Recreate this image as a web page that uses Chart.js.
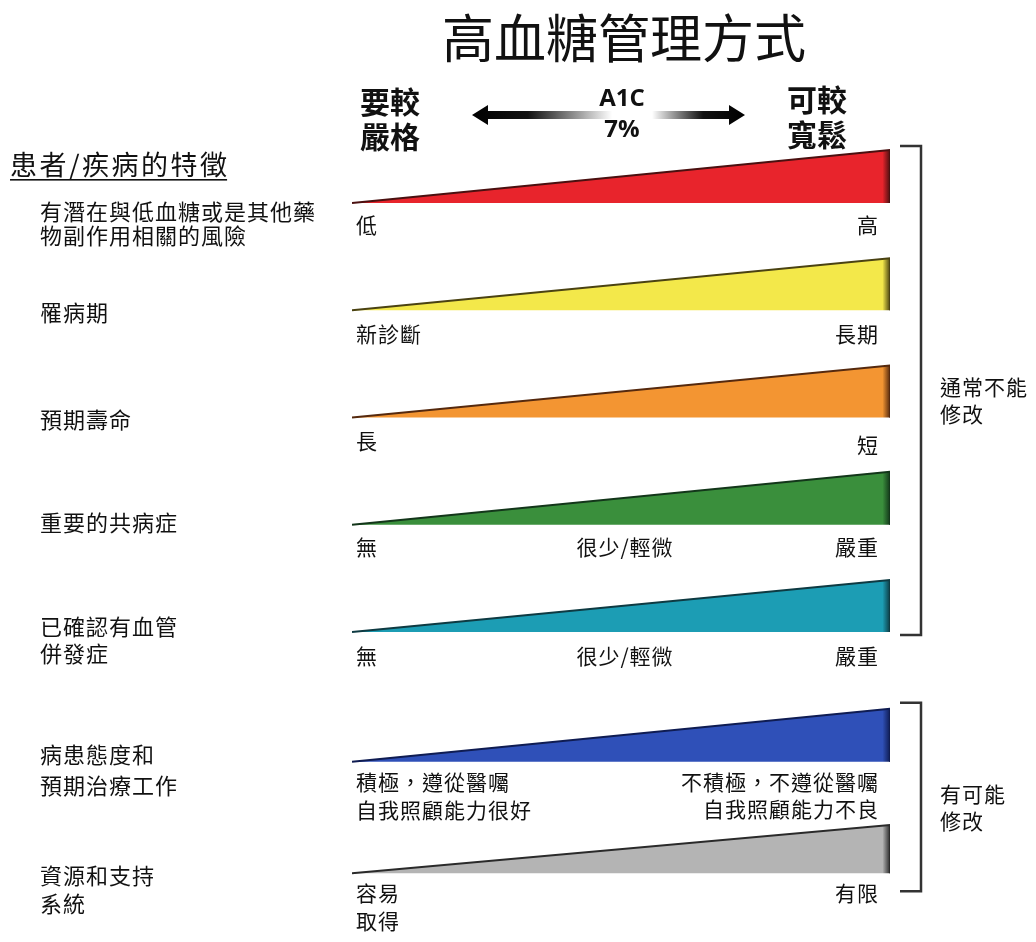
<!DOCTYPE html>
<html><head><meta charset="utf-8">
<script src="https://cdn.jsdelivr.net/npm/chart.js@4/dist/chart.umd.min.js"></script>
<style>html,body{margin:0;padding:0;background:#fff;}#wrap{width:1036px;height:942px;position:relative}</style>
</head><body><div id="wrap"><canvas id="c" width="1036" height="942"></canvas></div>
<script>
// ---------- data ----------
const title = '高血糖管理方式';
const sectionHeader = '患者/疾病的特徵';
const categories = [
  ['有潛在與低血糖或是其他藥', '物副作用相關的風險'],
  ['罹病期'],
  ['預期壽命'],
  ['重要的共病症'],
  ['已確認有血管', '併發症'],
  ['病患態度和', '預期治療工作'],
  ['資源和支持', '系統']
];
const lowLabels = [['低'], ['新診斷'], ['長'], ['無'], ['無'], ['積極，遵從醫囑', '自我照顧能力很好'], ['容易', '取得']];
const midLabels = [[], [], [], ['很少/輕微'], ['很少/輕微'], [], []];
const highLabels = [['高'], ['長期'], ['短'], ['嚴重'], ['嚴重'], ['不積極，不遵從醫囑', '自我照顧能力不良'], ['有限']];
const wedgeStart = [0, 0, 0, 0, 0, 0, 0];
const wedgeEnd = [1, 1, 1, 1, 1, 1, 1];
const wedgeRise = [0.495, 0.485, 0.485, 0.495, 0.485, 0.495, 0.45];
const groupRows = [[0, 4], [5, 6]];
const groupLabels = [['通常不能', '修改'], ['有可能', '修改']];
const leftScaleLabel = ['要較', '嚴格'];
const centerScaleLabel = ['A1C', '7%'];
const rightScaleLabel = ['可較', '寬鬆'];

// ---------- layout / style ----------
const rowPos = [0, 1, 2, 3, 4, 5.21, 6.25];
const fills = ['#e8242c', '#f3e84a', '#f39532', '#3a8f3c', '#1c9db4', '#2f50b8', '#b4b4b4'];
const edges = ['#4a1010', '#4a4212', '#55290e', '#13361a', '#0e3a42', '#0f1c52', '#2a2a2a'];
const CJK = '"Noto Sans CJK TC", "Noto Sans CJK SC", sans-serif';

const datasets = categories.map((c, i) => ({
  label: c.join(''),
  data: [
    {x: wedgeStart[i], y: rowPos[i]},
    {x: wedgeEnd[i], y: rowPos[i] - wedgeRise[i]},
    {x: wedgeEnd[i], y: rowPos[i]}
  ],
  showLine: true,
  pointRadius: 0,
  pointHoverRadius: 0,
  tension: 0,
  borderWidth: 2,
  borderColor: edges[i],
  borderJoinStyle: 'miter',
  fill: {value: rowPos[i]},
  backgroundColor: (ctx) => {
    const chart = ctx.chart;
    if (!chart.chartArea) return fills[i];
    const xs = chart.scales.x;
    const x0 = xs.getPixelForValue(wedgeStart[i]);
    const x1 = xs.getPixelForValue(wedgeEnd[i]);
    const g = chart.ctx.createLinearGradient(x0, 0, x1, 0);
    g.addColorStop(0, fills[i]);
    g.addColorStop(0.986, fills[i]);
    g.addColorStop(1, edges[i]);
    return g;
  }
}));

function lines(ctx, arr, x, y, lh) {
  arr.forEach((t, k) => ctx.fillText(t, x, y + k * lh));
}

const textPlugin = {
  id: 'texts',
  afterDraw(chart) {
    const ctx = chart.ctx;
    const xs = chart.scales.x, ys = chart.scales.y;
    const xL = xs.getPixelForValue(0), xR = xs.getPixelForValue(1);
    ctx.save();
    ctx.fillStyle = '#111';
    ctx.textBaseline = 'middle';

    // title
    ctx.textAlign = 'center';
    ctx.font = '400 52px ' + CJK;
    ctx.fillText(title, 624, 38);

    // scale header
    ctx.font = 'bold 30px ' + CJK;
    ctx.textAlign = 'left';
    lines(ctx, leftScaleLabel, 360, 102, 35);
    lines(ctx, rightScaleLabel, 787, 100, 35);
    ctx.textAlign = 'center';
    ctx.font = 'bold 24px "Open Sans", "Liberation Sans", sans-serif';
    lines(ctx, centerScaleLabel, 622, 99, 31);

    // arrows
    const ay = 115;
    let g = ctx.createLinearGradient(472, 0, 612, 0);
    g.addColorStop(0, '#000'); g.addColorStop(0.4, '#111'); g.addColorStop(1, 'rgba(0,0,0,0)');
    ctx.fillStyle = g;
    ctx.beginPath();
    ctx.moveTo(472, ay); ctx.lineTo(488, ay - 10); ctx.lineTo(488, ay - 4); ctx.lineTo(612, ay - 4);
    ctx.lineTo(612, ay + 4); ctx.lineTo(488, ay + 4); ctx.lineTo(488, ay + 10); ctx.closePath(); ctx.fill();
    g = ctx.createLinearGradient(652, 0, 745, 0);
    g.addColorStop(0, 'rgba(0,0,0,0)'); g.addColorStop(0.55, '#111'); g.addColorStop(1, '#000');
    ctx.fillStyle = g;
    ctx.beginPath();
    ctx.moveTo(745, ay); ctx.lineTo(729, ay - 10); ctx.lineTo(729, ay - 4); ctx.lineTo(652, ay - 4);
    ctx.lineTo(652, ay + 4); ctx.lineTo(729, ay + 4); ctx.lineTo(729, ay + 10); ctx.closePath(); ctx.fill();

    // section header
    ctx.fillStyle = '#111';
    ctx.textAlign = 'left';
    ctx.font = '27px ' + CJK;
    ctx.letterSpacing = '2.5px';
    ctx.fillText(sectionHeader, 10, 165);
    const hw = ctx.measureText(sectionHeader).width - 2.5;
    ctx.fillRect(10, 179, hw, 1.6);

    // row labels
    const leftOff = [[9, 33], [2], [2], [-2], [-5, 22], [-7, 24], [2, 30]];
    ctx.font = '22px ' + CJK;
    ctx.letterSpacing = '1px';
    categories.forEach((c, i) => {
      const b = ys.getPixelForValue(rowPos[i]);
      c.forEach((t, k) => ctx.fillText(t, 40, b + leftOff[i][k]));
    });
    // under-wedge labels
    ctx.font = '21px ' + CJK;
    ctx.letterSpacing = '1px';
    const subOff = [22, 24, 24, 22, 24, 20, 20];
    categories.forEach((c, i) => {
      const b = ys.getPixelForValue(rowPos[i]) + subOff[i];
      ctx.textAlign = 'left';
      lines(ctx, lowLabels[i], xL + 4, b, 28);
      ctx.textAlign = 'center';
      lines(ctx, midLabels[i], 625, b, 28);
      ctx.textAlign = 'right';
      lines(ctx, highLabels[i], xR - 11, b + (i === 2 ? 4 : 0), 27);
    });

    // brackets
    ctx.strokeStyle = '#333';
    ctx.lineWidth = 2.5;
    const bx = 921;
    const padTop = [4, 6], padBot = [3, 18];
    groupRows.forEach((gr, j) => {
      const top = ys.getPixelForValue(rowPos[gr[0]] - wedgeRise[gr[0]]) - padTop[j];
      const bot = ys.getPixelForValue(rowPos[gr[1]]) + padBot[j];
      ctx.beginPath();
      ctx.moveTo(900, top); ctx.lineTo(bx, top); ctx.lineTo(bx, bot); ctx.lineTo(900, bot);
      ctx.stroke();
      ctx.textAlign = 'left';
      ctx.font = '21px ' + CJK;
      const mid = (top + bot) / 2;
      lines(ctx, groupLabels[j], 940, mid - 3, 27);
    });
    ctx.restore();
  }
};

new Chart(document.getElementById('c'), {
  type: 'scatter',
  data: {datasets},
  options: {
    responsive: false,
    animation: false,
    devicePixelRatio: 1,
    layout: {padding: {left: 352, right: 146, top: 140, bottom: 42}},
    plugins: {legend: {display: false}, tooltip: {enabled: false}},
    events: [],
    scales: {
      x: {type: 'linear', min: 0, max: 1, display: false},
      y: {type: 'linear', min: -0.5874, max: 6.4988, reverse: true, display: false}
    }
  },
  plugins: [textPlugin]
});
</script>
</body></html>
